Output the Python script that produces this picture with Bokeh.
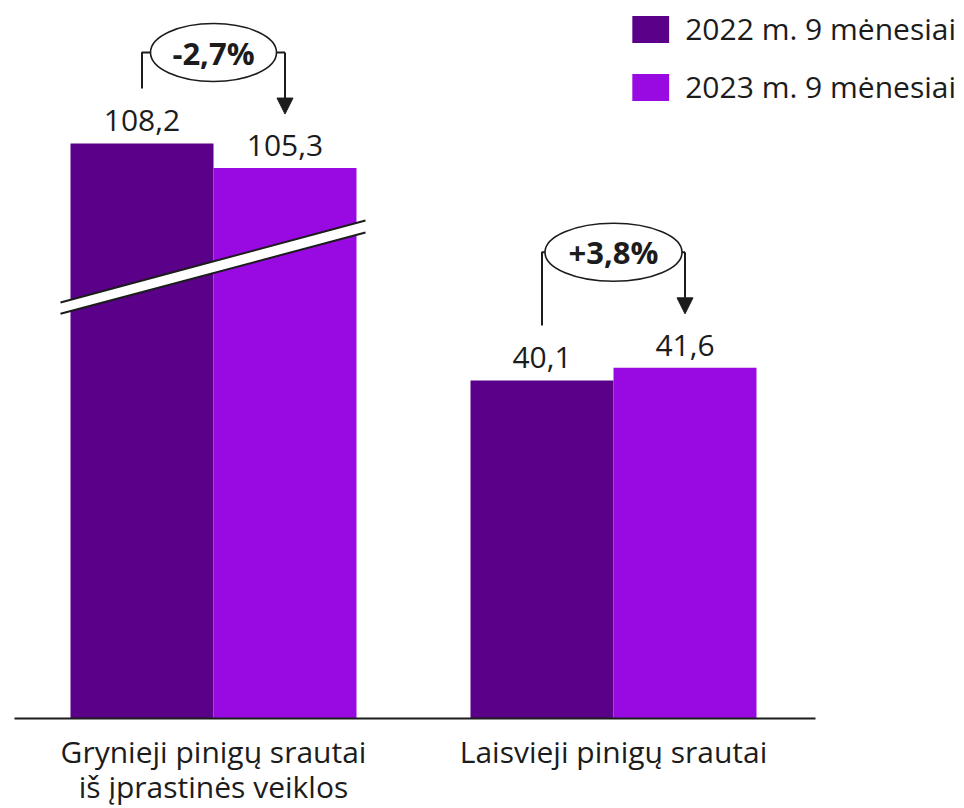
from bokeh.plotting import figure
from bokeh.models import Range1d, Legend, LegendItem, Arrow, NormalHead
from bokeh.core.properties import value
from bokeh.embed import file_html
from bokeh.resources import INLINE

# ---------------- data ----------------
categories = ["Grynieji pinigų srautai\niš įprastinės veiklos", "Laisvieji pinigų srautai"]
series_names = ["2022 m. 9 mėnesiai", "2023 m. 9 mėnesiai"]
values_2022 = [108.2, 40.1]
values_2023 = [105.3, 41.6]
changes = ["-2,7%", "+3,8%"]
broken = [True, False]          # first group is drawn with a broken value axis
BREAK_AMOUNT = 40.0             # value removed by the axis break

# ---------------- style ----------------
DARK = "#5A0089"
LIGHT = "#990AE3"
INK = "#1c1c1c"
FONT = "Open Sans"
BAR_W = 0.3575
OFF = BAR_W / 2

def fmt(v):
    return f"{v:.1f}".replace(".", ",")

def shown(v, b):
    return v - BREAK_AMOUNT if b else v

groups = list(range(len(categories)))
x_dark = [g - OFF for g in groups]
x_light = [g + OFF for g in groups]
top_dark = [shown(v, b) for v, b in zip(values_2022, broken)]
top_light = [shown(v, b) for v, b in zip(values_2023, broken)]

p = figure(width=964, height=808,
           x_range=Range1d(-0.5325, 1.8775), y_range=Range1d(-10.68, 85.17),
           output_backend="svg", toolbar_location=None, min_border=0,
           x_axis_location=None, y_axis_location=None)
p.grid.visible = False
p.outline_line_color = None

r_dark = p.vbar(x=x_dark, top=top_dark, bottom=0, width=BAR_W, fill_color=DARK, line_color=None)
r_light = p.vbar(x=x_light, top=top_light, bottom=0, width=BAR_W, fill_color=LIGHT, line_color=None)

# value labels
GAP = 2.7
p.text(x=x_dark, y=[t + GAP for t in top_dark], text=[fmt(v) for v in values_2022],
       text_align="center", text_baseline="middle", text_font=value(FONT),
       text_font_size="30px", text_color=INK)
p.text(x=x_light, y=[t + GAP for t in top_light], text=[fmt(v) for v in values_2023],
       text_align="center", text_baseline="middle", text_font=value(FONT),
       text_font_size="30px", text_color=INK)

# axis break marker on the first group
for g, b in zip(groups, broken):
    if not b:
        continue
    x0, x1 = g - 0.3825, g + 0.38
    u0, u1 = 49.35, 59.07
    l0, l1 = 48.0, 57.65
    p.patch(x=[x0, x1, x1, x0], y=[u0, u1, l1, l0], fill_color="white", line_color=None)
    p.line(x=[x0, x1], y=[u0, u1], line_color=INK, line_width=2)
    p.line(x=[x0, x1], y=[l0, l1], line_color=INK, line_width=2)

# baseline
p.line(x=[-0.4975, 1.505], y=[0, 0], line_color=INK, line_width=2)

# category labels (one text per line)
LINE1_Y = -3.91
LINE_STEP = 4.16
lx, ly, lt = [], [], []
for g, cat in zip(groups, categories):
    for k, line in enumerate(cat.split("\n")):
        lx.append(g)
        ly.append(LINE1_Y - k * LINE_STEP)
        lt.append(line)
p.text(x=lx, y=ly, text=lt, text_align="center", text_baseline="middle",
       text_font=value(FONT), text_font_size="30px", text_color=INK)

# change annotations
ell_y = [79.0, 55.3]
ell_w = [0.315, 0.3425]
ELL_H = 6.88
for g in groups:
    xl, xr = x_dark[g], x_light[g]
    ey = ell_y[g]
    yb = top_dark[g] + 6.52
    ytip = top_light[g] + 6.4
    p.line(x=[xl, xl, g - ell_w[g] / 2], y=[yb, ey, ey], line_color=INK, line_width=2)
    p.line(x=[g + ell_w[g] / 2, xr], y=[ey, ey], line_color=INK, line_width=2)
    p.add_layout(Arrow(x_start=xr, y_start=ey, x_end=xr, y_end=ytip, line_color=INK, line_width=2,
                       end=NormalHead(size=16, fill_color=INK, line_color=INK, line_width=1)))
    p.ellipse(x=[g], y=[ey], width=ell_w[g], height=ELL_H, fill_color="white",
              line_color=INK, line_width=1.6)
    p.text(x=[g], y=[ey], text=[changes[g]], text_align="center", text_baseline="middle",
           text_font=value(FONT), text_font_style="bold", text_font_size="31px", text_color=INK)

legend = Legend(items=[LegendItem(label=series_names[0], renderers=[r_dark]),
                       LegendItem(label=series_names[1], renderers=[r_light])],
                location="top_right", orientation="vertical",
                label_text_font=FONT, label_text_font_size="30px", label_text_color=INK,
                glyph_width=46, glyph_height=34, label_height=34, label_standoff=12,
                spacing=17, padding=0, margin=8,
                border_line_color=None, background_fill_alpha=0)
p.add_layout(legend)

open("out.html", "w").write(file_html(p, INLINE))
